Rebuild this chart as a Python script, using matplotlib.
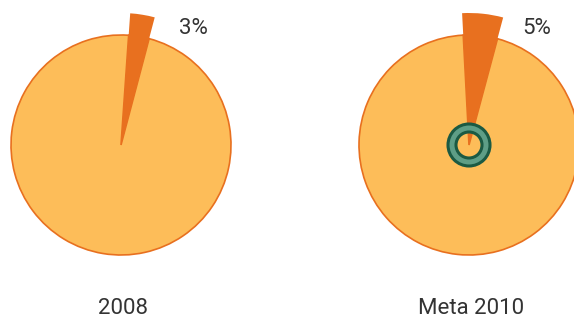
import matplotlib
matplotlib.use("Agg")
import matplotlib.pyplot as plt
from matplotlib.patches import Circle

plt.rcParams['font.family'] = ['Roboto', 'DejaVu Sans']

# data
years = ['2008', 'Meta 2010']
shares = [3, 5]            # percent highlighted slice
start_angles = [86, 93]
pct_labels = ['3%', '5%']

light = '#FDBD59'
dark_orange = '#E8701F'
ring_fill = '#5E9E86'
ring_edge = '#1B5A43'
text_col = '#333333'

W, H = 574, 323
fig = plt.figure(figsize=(W / 100, H / 100), dpi=100)
ax = fig.add_axes([0, 0, 1, 1])

centers = [(121, 178), (469, 178)]
lab_x = [193, 537]
R = 110

for i, (year, s, sa, lab) in enumerate(zip(years, shares, start_angles, pct_labels)):
    c = centers[i]
    vals = [s, 100 - s]
    # base pie
    ax.pie(vals, startangle=sa, counterclock=False, radius=R, center=c,
           colors=[light, light],
           wedgeprops=dict(edgecolor=dark_orange, linewidth=1.2), frame=True)
    # highlighted slice, drawn longer
    ax.pie(vals, startangle=sa, counterclock=False, radius=R * 1.2, center=c,
           colors=[dark_orange, 'none'],
           wedgeprops=dict(edgecolor='none', linewidth=0), frame=True)
    ax.text(c[0] + 2, 14, year, ha='center', va='center', fontsize=16, color=text_col)
    ax.text(lab_x[i], H - 28, lab, ha='center', va='center', fontsize=16, color=text_col)

# green ring at the centre of the target pie
c = centers[1]
ax.add_patch(Circle(c, 17, facecolor='none', edgecolor=ring_fill, linewidth=6.5, zorder=5))
ax.add_patch(Circle(c, 21, facecolor='none', edgecolor=ring_edge, linewidth=2.2, zorder=6))
ax.add_patch(Circle(c, 13, facecolor='none', edgecolor=ring_edge, linewidth=2.2, zorder=6))

ax.set_xlim(0, W)
ax.set_ylim(0, H)
ax.set_aspect('equal')
ax.axis('off')

fig.savefig('out.png', dpi=100)
